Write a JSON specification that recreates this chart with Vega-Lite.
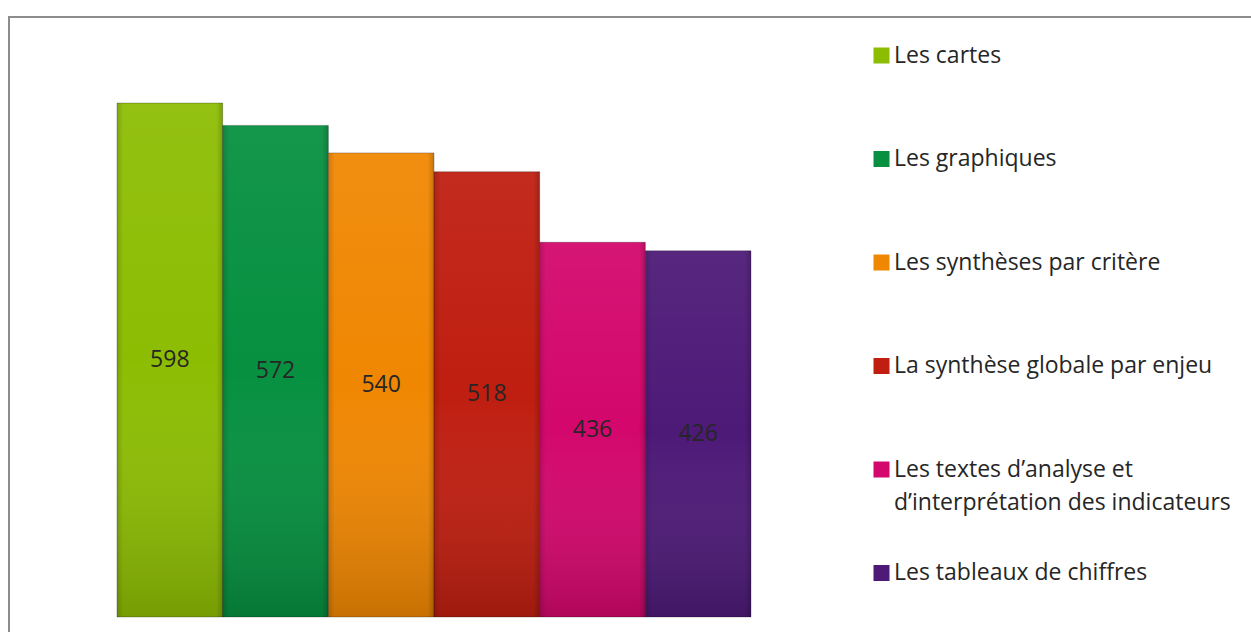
{
  "$schema": "https://vega.github.io/schema/vega-lite/v6.json",
  "autosize": {"type": "none"},
  "padding": {"left": 9, "top": 17, "right": -20, "bottom": -40},
  "width": 1262,
  "height": 655,
  "background": "white",
  "config": {
    "view": {"stroke": "#8c8c8c", "strokeWidth": 2},
    "font": "Open Sans",
    "style": {"guide-label": {"lineHeight": 33}}
  },
  "data": {
    "values": [
      {"categorie": "Les cartes", "valeur": 598},
      {"categorie": "Les graphiques", "valeur": 572},
      {"categorie": "Les synthèses par critère", "valeur": 540},
      {"categorie": "La synthèse globale par enjeu", "valeur": 518},
      {"categorie": "Les textes d’analyse et d’interprétation des indicateurs", "valeur": 436},
      {"categorie": "Les tableaux de chiffres", "valeur": 426}
    ]
  },
  "encoding": {
    "x": {
      "field": "categorie", "type": "nominal", "sort": null, "axis": null,
      "scale": {
        "domain": ["Les cartes", "Les graphiques", "Les synthèses par critère", "La synthèse globale par enjeu", "Les textes d’analyse et d’interprétation des indicateurs", "Les tableaux de chiffres", "~1", "~2", "~3", "~4"],
        "paddingInner": 0, "paddingOuter": 0.9715, "align": 0.526
      }
    }
  },
  "layer": [
    {
      "mark": {"type": "bar", "stroke": "rgba(0,0,0,0.25)", "strokeWidth": 1},
      "encoding": {
        "y": {"field": "valeur", "type": "quantitative", "axis": null,
              "scale": {"domain": [-64, 698.1], "nice": false, "zero": false}},
        "color": {
          "field": "categorie", "type": "nominal", "sort": null,
          "scale": {
            "domain": ["Les cartes", "Les graphiques", "Les synthèses par critère", "La synthèse globale par enjeu", "Les textes d’analyse et d’interprétation des indicateurs", "Les tableaux de chiffres"],
            "range": ["#8dbd03", "#069040", "#f08702", "#bf1e10", "#d3076c", "#4d1a77"]
          },
          "legend": {
            "orient": "none",
            "legendX": 861,
            "legendY": 27.5,
            "title": null,
            "symbolType": "square",
            "symbolSize": 256,
            "symbolStrokeWidth": 0,
            "labelFont": "Open Sans",
            "labelFontSize": 23,
            "labelColor": "#262626",
            "labelOffset": 1,
            "labelLimit": 420,
            "labelBaseline": "middle",
            "rowPadding": 47.5,
            "clipHeight": 22,
            "labelExpr": "datum.label == 'Les textes d’analyse et d’interprétation des indicateurs' ? ['Les textes d’analyse et', 'd’interprétation des indicateurs'] : [datum.label, '']"
          }
        }
      }
    },
    {
      "mark": {
        "type": "bar",
        "color": {
          "gradient": "linear", "x1": 0, "y1": 0, "x2": 0, "y2": 1,
          "stops": [
            {"offset": 0, "color": "rgba(255,255,255,0.06)"},
            {"offset": 0.5, "color": "rgba(255,255,255,0)"},
            {"offset": 1, "color": "rgba(0,0,0,0.17)"}
          ]
        }
      },
      "encoding": {
        "y": {"field": "valeur", "type": "quantitative", "axis": null,
              "scale": {"domain": [-64, 698.1], "nice": false, "zero": false}}
      }
    },
    {
      "mark": {
        "type": "bar",
        "color": {
          "gradient": "linear", "x1": 0, "y1": 0, "x2": 1, "y2": 0,
          "stops": [
            {"offset": 0, "color": "rgba(0,0,0,0.14)"},
            {"offset": 0.06, "color": "rgba(0,0,0,0)"},
            {"offset": 0.94, "color": "rgba(0,0,0,0)"},
            {"offset": 1, "color": "rgba(0,0,0,0.18)"}
          ]
        }
      },
      "encoding": {
        "y": {"field": "valeur", "type": "quantitative", "axis": null,
              "scale": {"domain": [-64, 698.1], "nice": false, "zero": false}}
      }
    },
    {
      "mark": {"type": "text", "fontSize": 23, "color": "#262626", "baseline": "middle", "align": "center"},
      "encoding": {
        "y": {"field": "valeur", "type": "quantitative", "axis": null,
              "scale": {"domain": [-128, 1396.2], "nice": false, "zero": false}},
        "text": {"field": "valeur", "type": "quantitative"}
      }
    }
  ],
  "resolve": {"scale": {"y": "independent"}}
}
